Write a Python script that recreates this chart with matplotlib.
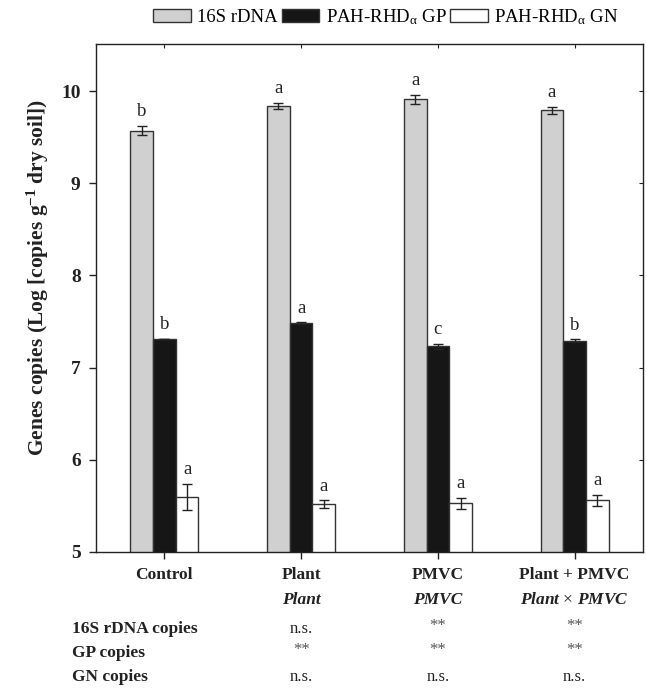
import numpy as np
import matplotlib
matplotlib.use("Agg")
import matplotlib.pyplot as plt
import matplotlib.transforms as mtransforms

plt.rcParams['font.family'] = ['Liberation Serif', 'DejaVu Serif']
plt.rcParams['mathtext.fontset'] = 'custom'
plt.rcParams['mathtext.rm'] = 'Liberation Serif'
plt.rcParams['mathtext.it'] = 'Liberation Serif:italic'
plt.rcParams['mathtext.bf'] = 'Liberation Serif:bold'

categories = ['Control', 'Plant', 'PMVC', 'Plant + PMVC']
series_names = ['16S rDNA', r'PAH-RHD$_{\mathregular{α}}$ GP', r'PAH-RHD$_{\mathregular{α}}$ GN']
rdna = [9.57, 9.84, 9.91, 9.79]
rdna_err = [0.05, 0.03, 0.05, 0.04]
gp = [7.31, 7.48, 7.23, 7.29]
gp_err = [0.005, 0.01, 0.03, 0.015]
gn = [5.60, 5.52, 5.53, 5.56]
gn_err = [0.14, 0.04, 0.06, 0.06]
rdna_letters = ['b', 'a', 'a', 'a']
gp_letters = ['b', 'a', 'c', 'b']
gn_letters = ['a', 'a', 'a', 'a']

factor_headers = ['Plant', 'PMVC', r'Plant $\times$ PMVC']
row_labels = ['16S rDNA copies', 'GP copies', 'GN copies']
row_values = [['n.s.', '**', '**'],
              ['**', '**', '**'],
              ['n.s.', 'n.s.', 'n.s.']]

colors = ['#d0d0d0', '#161616', '#ffffff']
edge = '#333333'

fig = plt.figure(figsize=(6.47, 6.89), dpi=100)
ax = fig.add_axes([96/647, 1-552/689, (643-96)/647, (552-44)/689])

x = np.arange(len(categories))
w = 0.166
offsets = [-w, 0, w]
vals = [rdna, gp, gn]
errs = [rdna_err, gp_err, gn_err]
letters = [rdna_letters, gp_letters, gn_letters]
handles = []
for i in range(3):
    b = ax.bar(x + offsets[i], vals[i], w, bottom=0, color=colors[i], edgecolor=edge,
               linewidth=1.0, zorder=2, label=series_names[i])
    handles.append(b)
    ax.errorbar(x + offsets[i], vals[i], yerr=errs[i], fmt='none', ecolor='#222222',
                elinewidth=1.0, capsize=3.5, capthick=1.0, zorder=3)
    for j in range(len(categories)):
        ax.annotate(letters[i][j], (x[j] + offsets[i], vals[i][j] + errs[i][j]),
                    xytext=(0, 4), textcoords='offset points', ha='center', va='bottom',
                    fontsize=13.5, color='#222222')

ax.set_xlim(-0.5, 3.5)
ax.set_ylim(5, 10.51)
ax.set_yticks([5, 6, 7, 8, 9, 10])
ax.set_xticks(x)
ax.set_xticklabels(categories, fontsize=12.5, fontweight='bold')
for lab in ax.get_yticklabels():
    lab.set_fontweight('bold')
    lab.set_fontsize(14)
ax.tick_params(axis='both', direction='out', length=5, width=1, colors='#222222', labelcolor='#222222')
ax.tick_params(axis='x', pad=6)
ax.tick_params(axis='y', pad=6)
secx = ax.secondary_xaxis('top')
secx.set_xticks(x)
secx.set_xticklabels([])
secx.tick_params(direction='in', length=3, width=0.8, colors='#222222')
secy = ax.secondary_yaxis('right')
secy.set_yticks([5, 6, 7, 8, 9, 10])
secy.set_yticklabels([])
secy.tick_params(direction='in', length=3, width=0.8, colors='#222222')
for s in ax.spines.values():
    s.set_linewidth(1.0)
    s.set_color('#222222')
for s in list(secx.spines.values()) + list(secy.spines.values()):
    s.set_visible(False)

ax.set_ylabel(r'Genes copies (Log [copies g$^{\mathbf{-1}}$ dry soil])', fontsize=15.5,
              fontweight='bold', color='#222222')
ax.yaxis.set_label_coords(-0.106, 0.541)
ax.yaxis.label.set_va('center')

fig.legend(handles=handles, labels=series_names, loc='center', bbox_to_anchor=(386/647, 1-17/689),
           ncol=3, frameon=False, fontsize=13.5, handlelength=2.0, handleheight=0.75,
           handletextpad=0.35, columnspacing=0.2, borderaxespad=0)

trans = mtransforms.blended_transform_factory(ax.transData, fig.transFigure)
for j, h in enumerate(factor_headers):
    fig.text(x[j + 1], 1 - 600/689, h, transform=trans, ha='center', va='center',
             fontsize=12.5, fontweight='bold', fontstyle='italic', color='#222222')
row_y = [629, 653, 677]
for r, lab in enumerate(row_labels):
    fig.text(72/647, 1 - row_y[r]/689, lab, ha='left', va='center', fontsize=12.5,
             fontweight='bold', color='#222222')
    for j, v in enumerate(row_values[r]):
        col = '#555555' if v == '**' else '#222222'
        fig.text(x[j + 1], 1 - (row_y[r] - (3 if v == '**' else 0))/689, v, transform=trans,
                 ha='center', va='center', fontsize=12, color=col)

fig.savefig('out.png', dpi=100)
